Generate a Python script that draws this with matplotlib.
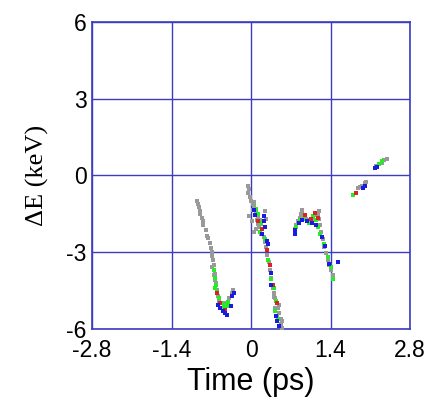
import matplotlib
matplotlib.use("Agg")
import matplotlib.pyplot as plt

# Tick labels
x_ticks = [-2.8, -1.4, 0, 1.4, 2.8]
x_tick_labels = ["-2.8", "-1.4", "0", "1.4", "2.8"]
y_ticks = [-6, -3, 0, 3, 6]
y_tick_labels = ["-6", "-3", "0", "3", "6"]

# Particle points per colour (time in ps, energy in keV)
gray_t = [-0.95, -0.93, -0.92, -0.90, -0.89, -0.87, -0.85, -0.84, -0.80, -0.78, -0.76, -0.72, -0.70,
          -0.69, -0.68, -0.67, -0.66, -0.66, -0.65, -0.64, -0.63, -0.62, -0.61, -0.60, -0.58, -0.57,
          -0.50, -0.44, -0.38, -0.34, -0.32, -0.68, -0.64,
          -0.05, -0.04, -0.06, -0.02, 0.00, 0.03, 0.06, 0.04, 0.08, 0.10, 0.13, 0.15, 0.12, 0.18,
          0.20, 0.06, 0.17, 0.22, 0.24, 0.27, 0.29, 0.31, 0.33, 0.35, 0.37, 0.40, 0.43, 0.45, 0.48,
          0.50, 0.52, 0.53, 0.46, 0.42, 0.55, 0.08, -0.03, 0.02, 0.25, 0.27, 0.10, 0.14, 0.05,
          0.39, 0.41, 0.49, 0.54,
          0.77, 0.80, 0.83, 0.86, 0.88, 0.90, 0.93, 0.97, 1.02, 1.07, 1.12, 1.16, 1.18, 1.20, 1.22,
          1.24, 1.26, 1.29, 1.32, 1.35, 1.38, 1.41, 1.44, 0.89, 1.19,
          1.88, 1.92, 1.95, 2.00, 2.02, 2.20, 2.25, 2.30, 2.35, 2.40]
gray_e = [-1.00, -1.10, -1.25, -1.40, -1.50, -1.65, -1.80, -1.95, -2.15, -2.35, -2.45, -2.65, -2.85,
          -3.00, -3.15, -3.30, -3.50, -3.70, -3.90, -4.10, -4.00, -4.30, -4.20, -4.50, -4.70, -4.90,
          -5.00, -5.00, -4.80, -4.60, -4.50, -3.60, -3.85,
          -0.40, -0.55, -0.70, -0.85, -1.00, -1.10, -1.20, -1.35, -1.45, -1.55, -1.60, -1.75, -1.90, -1.90,
          -2.10, -2.20, -2.30, -2.40, -2.60, -2.80, -3.10, -3.40, -3.70, -4.00, -4.30, -4.60, -4.80, -5.00, -5.20,
          -5.40, -5.60, -5.80, -5.50, -5.20, -5.95, -2.10, -1.60, -1.80, -1.40, -1.70, -1.75, -2.00, -1.05,
          -4.40, -4.75, -5.05, -5.70,
          -2.10, -1.95, -1.80, -1.65, -1.50, -1.45, -1.60, -1.70, -1.75, -1.70, -1.55, -1.50, -1.55, -1.70, -1.95,
          -2.20, -2.50, -2.80, -3.05, -3.30, -3.50, -3.70, -3.90, -1.35, -1.40,
          -0.50, -0.45, -0.40, -0.30, -0.25, 0.35, 0.45, 0.50, 0.60, 0.65]

green_t = [-0.66, -0.64, -0.62, -0.60, -0.56, -0.52, -0.47, -0.43, -0.48, -0.40, -0.63,
           0.08, 0.12, 0.18, 0.16, 0.24, 0.30, 0.36, 0.40, 0.44, 0.42, 0.47,
           0.80, 0.86, 0.92, 1.02, 1.10, 1.14, 1.18, 1.22, 1.28, 1.35, 1.40, 1.45,
           1.80, 2.25, 2.30]
green_e = [-3.70, -4.00, -4.30, -4.55, -4.80, -5.00, -5.05, -5.10, -5.20, -4.95, -4.40,
           -1.30, -1.50, -1.85, -2.20, -2.50, -3.30, -4.05, -4.40, -4.90, -5.30, -5.60,
           -2.00, -1.75, -1.70, -1.85, -1.60, -1.75, -2.00, -2.30, -2.70, -3.20, -3.60, -4.05,
           -0.75, 0.45, 0.55]

red_t = [-0.60, -0.55, -0.45,
         0.12, 0.20, 0.28, 0.33, 0.38, 0.45,
         0.95, 1.05, 1.12, 1.18,
         1.85]
red_e = [-4.60, -5.00, -5.25,
         -1.80, -2.10, -2.90, -3.50, -4.30, -5.00,
         -1.55, -1.70, -1.45, -1.65,
         -0.70]

blue_t = [-0.58, -0.55, -0.50, -0.45, -0.42, -0.36, -0.33, -0.30,
          0.05, 0.07, 0.22, 0.23, 0.24, 0.20, 0.28, 0.30, 0.35, 0.36, 0.44, 0.46, 0.50,
          0.77, 0.78, 0.84, 0.90, 0.98, 1.08, 1.15, 1.25, 1.30, 1.38, 1.53,
          1.97, 2.00, 2.22, 2.18]
blue_e = [-5.05, -5.20, -5.30, -5.40, -5.45, -5.10, -4.70, -4.60,
          -1.35, -1.55, -1.60, -1.80, -2.00, -2.30, -2.55, -2.70, -3.80, -4.30, -5.50, -5.70, -5.90,
          -2.15, -2.30, -1.85, -1.75, -1.80, -1.85, -1.95, -2.40, -2.75, -3.45, -3.40,
          -0.50, -0.40, 0.33, 0.30]

frame_col = "#3c3cc0"

fig = plt.figure(figsize=(4.30, 4.01), dpi=100)
ax = fig.add_axes([0.214, 0.180, 0.7395, 0.765])

ms = 3.2
ax.plot(gray_t, gray_e, ls="none", marker="s", ms=ms, mew=0, color="#999999", zorder=3)
ax.plot(green_t, green_e, ls="none", marker="s", ms=ms, mew=0, color="#22ee22", zorder=4)
ax.plot(red_t, red_e, ls="none", marker="s", ms=ms, mew=0, color="#dd2222", zorder=5)
ax.plot(blue_t, blue_e, ls="none", marker="s", ms=ms, mew=0, color="#1a1ae0", zorder=6)

ax.set_xlim(-2.8, 2.8)
ax.set_ylim(-6, 6)
ax.set_xticks(x_ticks)
ax.set_xticklabels(x_tick_labels, family="Liberation Sans", fontsize=16.5)
ax.set_yticks(y_ticks)
ax.set_yticklabels(y_tick_labels, family="Liberation Sans", fontsize=16.5)
ax.tick_params(axis="x", length=0, pad=7)
ax.tick_params(axis="y", length=0, pad=4)
ax.grid(True, color=frame_col, lw=1.0, zorder=1)
for s in ax.spines.values():
    s.set_color(frame_col)
    s.set_linewidth(1.2)

ax.set_xlabel("Time (ps)", family="Liberation Sans", fontsize=22, labelpad=4)
ax.set_ylabel("\u0394E (keV)", family="Liberation Serif", fontsize=19, labelpad=12)

fig.savefig("out.png", dpi=100)
